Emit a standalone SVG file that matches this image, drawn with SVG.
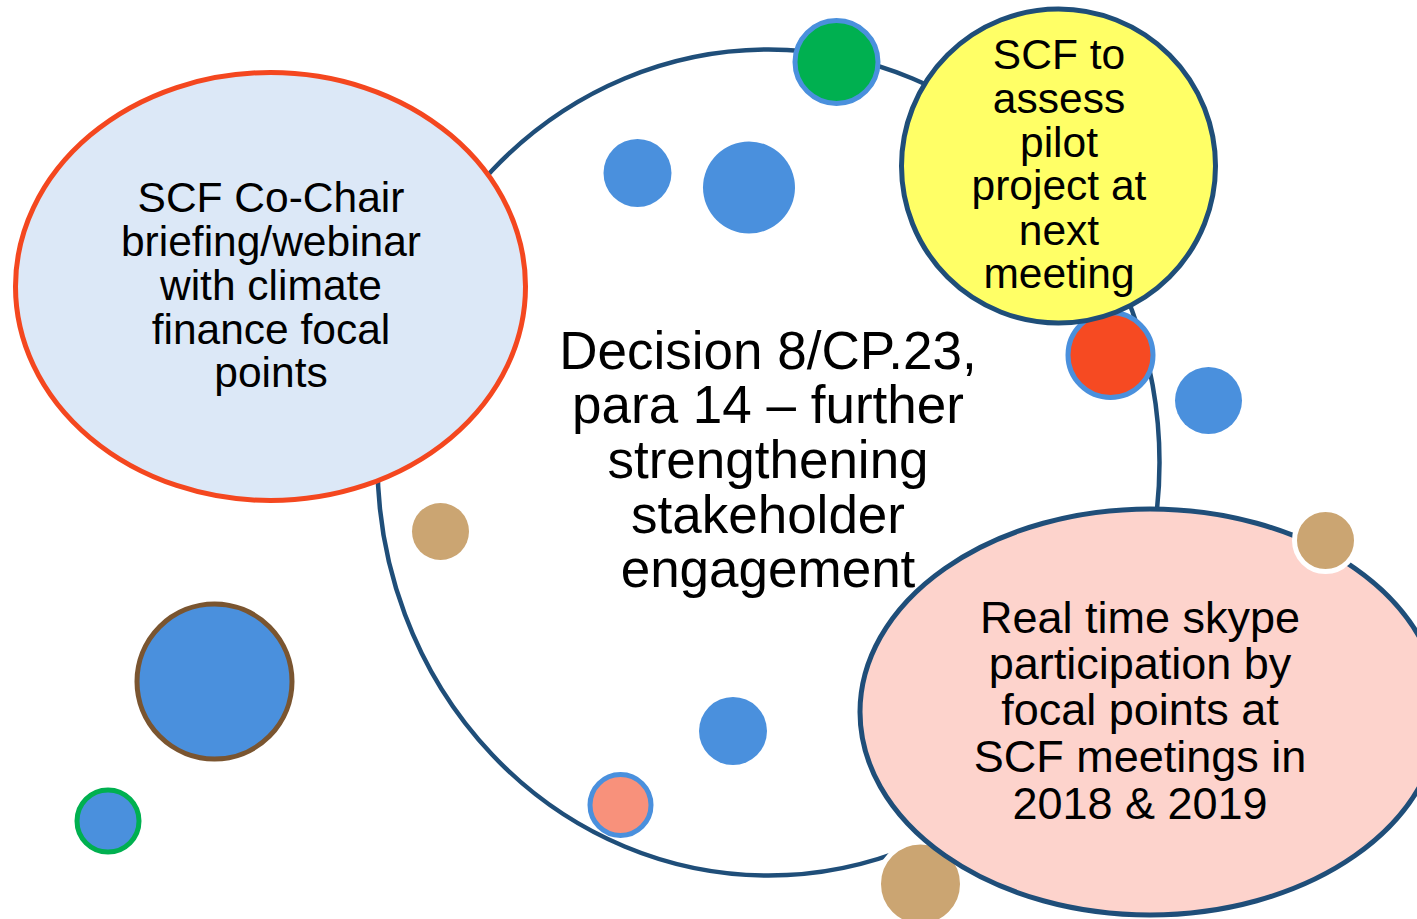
<svg xmlns="http://www.w3.org/2000/svg" width="1417" height="919" viewBox="0 0 1417 919">
<style>
.t{font-family:"Liberation Sans",Arial,sans-serif;fill:#000;text-anchor:middle}
.ring{fill:none;stroke:#1F4E79;stroke-width:4.5}
.navy{stroke:#1F4E79;stroke-width:5}
.blue{fill:#4A90DD}
.bstroke{stroke:#4A90DD;stroke-width:5}
.tan{fill:#CBA572}
.tanw{fill:#CBA572;stroke:#FFFFFF;stroke-width:5}
</style>
<rect width="1417" height="919" fill="#FFFFFF"/>
<g id="connectors"></g>
<g id="decision">
<ellipse class="ring" cx="768.5" cy="462.5" rx="391" ry="413"/>
<text class="t" font-size="53" x="768" y="369">Decision 8/CP.23,</text>
<text class="t" font-size="53" x="768" y="423">para 14 – further</text>
<text class="t" font-size="53" x="768" y="478">strengthening</text>
<text class="t" font-size="53" x="768" y="533">stakeholder</text>
<text class="t" font-size="53" x="768" y="587">engagement</text>
</g>
<g id="dot-tan-bottom"><circle class="tanw" cx="920.5" cy="884" r="42"/></g>
<g id="briefing">
<ellipse cx="270.5" cy="286.5" rx="255" ry="214" fill="#DCE8F7" stroke="#F4471F" stroke-width="5"/>
<text class="t" font-size="42.5" x="271" y="212">SCF Co-Chair</text>
<text class="t" font-size="42.5" x="271" y="256">briefing/webinar</text>
<text class="t" font-size="42.5" x="271" y="300">with climate</text>
<text class="t" font-size="42.5" x="271" y="344">finance focal</text>
<text class="t" font-size="42.5" x="271" y="387">points</text>
</g>
<g id="dot-red"><circle cx="1110.5" cy="355" r="42.5" fill="#F64A22" class="bstroke"/></g>
<g id="assess">
<circle cx="1058.5" cy="166" r="157" fill="#FFFF66" class="navy"/>
<text class="t" font-size="42.5" x="1059" y="69">SCF to</text>
<text class="t" font-size="42.5" x="1059" y="113">assess</text>
<text class="t" font-size="42.5" x="1059" y="157">pilot</text>
<text class="t" font-size="42.5" x="1059" y="200">project at</text>
<text class="t" font-size="42.5" x="1059" y="245">next</text>
<text class="t" font-size="42.5" x="1059" y="288">meeting</text>
</g>
<g id="skype">
<ellipse cx="1150" cy="712" rx="290" ry="203" fill="#FDD3CC" class="navy"/>
<text class="t" font-size="45" x="1140" y="633">Real time skype</text>
<text class="t" font-size="45" x="1140" y="679">participation by</text>
<text class="t" font-size="45" x="1140" y="725">focal points at</text>
<text class="t" font-size="45" x="1140" y="772">SCF meetings in</text>
<text class="t" font-size="45" x="1140" y="819">2018 &amp; 2019</text>
</g>
<g id="dot-green"><circle cx="836.5" cy="62" r="41.5" fill="#00B050" class="bstroke"/></g>
<g id="dot-blue-1"><circle class="blue" cx="637.5" cy="173" r="34"/></g>
<g id="dot-blue-2"><circle class="blue" cx="749" cy="187.5" r="46"/></g>
<g id="dot-blue-3"><circle class="blue" cx="1208.5" cy="400.5" r="33.5"/></g>
<g id="dot-blue-4"><circle class="blue" cx="733" cy="731" r="34"/></g>
<g id="dot-tan-1"><circle class="tan" cx="440.5" cy="531.5" r="28.5"/></g>
<g id="dot-tan-2"><circle class="tanw" cx="1325.5" cy="540.5" r="31"/></g>
<g id="dot-salmon"><circle cx="620.5" cy="805" r="30.5" fill="#F8917B" class="bstroke"/></g>
<g id="dot-brown"><circle cx="214.5" cy="681.5" r="77.5" fill="#4A90DD" stroke="#7A5530" stroke-width="5"/></g>
<g id="dot-green-ring"><circle cx="108" cy="821" r="31" fill="#4A90DD" stroke="#00B050" stroke-width="5"/></g>
</svg>
